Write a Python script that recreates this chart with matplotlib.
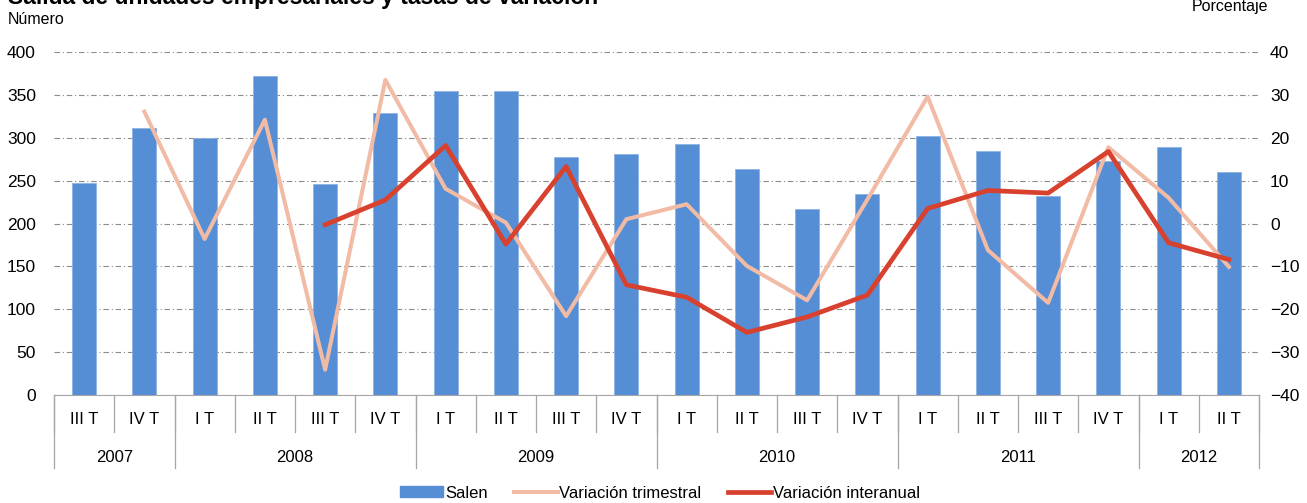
import numpy as np
import matplotlib.pyplot as plt
from matplotlib.patches import Patch
from matplotlib.lines import Line2D

plt.rcParams['font.family'] = ['Liberation Sans', 'DejaVu Sans']

# data
quarters = ["III T", "IV T",
            "I T", "II T", "III T", "IV T",
            "I T", "II T", "III T", "IV T",
            "I T", "II T", "III T", "IV T",
            "I T", "II T", "III T", "IV T",
            "I T", "II T"]
years = ["2007", "2008", "2009", "2010", "2011", "2012"]
quarters_per_year = [2, 4, 4, 4, 4, 2]

salen = [247, 311, 300, 372, 246, 329, 354, 354, 278, 281,
         293, 264, 217, 234, 302, 284, 232, 273, 289, 260]
var_trimestral = [np.nan, 26.1, -3.6, 24.2, -34.1, 33.5, 8.1, 0.2, -21.6, 1.0,
                  4.5, -9.9, -17.9, 5.6, 29.6, -6.2, -18.5, 17.8, 6.0, -10.1]
var_interanual = [np.nan, np.nan, np.nan, np.nan, -0.3, 5.5, 18.2, -4.8, 13.3, -14.3,
                  -17.2, -25.4, -21.8, -16.7, 3.5, 7.7, 7.1, 16.8, -4.5, -8.4]

bar_color = "#558ED5"
trim_color = "#F2BBA5"
inter_color = "#D9412F"
grid_color = "#8C8C8C"
axis_color = "#A6A6A6"

W, H = 1307, 503
fig = plt.figure(figsize=(W / 100, H / 100), dpi=100)
left, right, top, bottom = 54, 1259, 52, 395
ax = fig.add_axes([left / W, 1 - bottom / H, (right - left) / W, (bottom - top) / H])

x = np.arange(len(salen))
ax.bar(x, salen, width=0.4, color=bar_color, edgecolor="#8DB3E2", linewidth=0.6, zorder=2)
ax.set_xlim(-0.5, len(salen) - 0.5)
ax.set_ylim(0, 400)
ax.set_yticks(range(0, 401, 50))
ax.yaxis.grid(True, color=grid_color, linestyle=(0, (5, 2.5, 1, 2.5)), linewidth=0.8)
ax.set_axisbelow(True)
ax.tick_params(axis="y", length=0, pad=13, labelsize=12.5)
ax.set_xticks([])
for s in ["top", "left", "right"]:
    ax.spines[s].set_visible(False)
ax.spines["bottom"].set_color(axis_color)

ax2 = ax.twinx()
ax2.plot(x, var_trimestral, color=trim_color, linewidth=2.9, zorder=3)
ax2.plot(x, var_interanual, color=inter_color, linewidth=3.4, zorder=4)
ax2.set_ylim(-40, 40)
ax2.set_yticks(range(-40, 41, 10))
ax2.tick_params(axis="y", length=0, pad=8, labelsize=12.5)
for s in ["top", "left", "right", "bottom"]:
    ax2.spines[s].set_visible(False)

# two-level category axis
tr = ax.get_xaxis_transform()
q_low = (bottom - 432) / (bottom - top)
y_low = (bottom - 468) / (bottom - top)
for i, q in enumerate(quarters):
    ax.text(i, (bottom - 419) / (bottom - top), q, transform=tr, ha="center", va="center",
            fontsize=12, clip_on=False)
for b in np.arange(len(quarters) + 1) - 0.5:
    ax.plot([b, b], [0, q_low], transform=tr, color=axis_color, linewidth=0.9, clip_on=False)
start = -0.5
for yr, n in zip(years, quarters_per_year):
    ax.text(start + n / 2, (bottom - 457) / (bottom - top), yr, transform=tr, ha="center",
            va="center", fontsize=12, clip_on=False)
    ax.plot([start, start], [0, y_low], transform=tr, color=axis_color, linewidth=0.9, clip_on=False)
    start += n
ax.plot([start, start], [0, y_low], transform=tr, color=axis_color, linewidth=0.9, clip_on=False)

fig.text(8 / W, 1 - 4 / H, "Salida de unidades empresariales y tasas de variación",
         fontsize=16.5, fontweight="bold", va="baseline", ha="left")
fig.text(8 / W, 1 - 20 / H, "Número", fontsize=11.5, va="center", ha="left")
fig.text(1268 / W, 1 - 7 / H, "Porcentaje", fontsize=11.5, va="center", ha="right")

handles = [Patch(facecolor=bar_color, edgecolor=bar_color),
           Line2D([], [], color=trim_color, linewidth=2.9),
           Line2D([], [], color=inter_color, linewidth=3.4)]
fig.legend(handles, ["Salen", "Variación trimestral", "Variación interanual"],
           loc="center", bbox_to_anchor=(0.505, 1 - 493 / H), ncol=3, frameon=False,
           fontsize=12, handlelength=2.6, handletextpad=0.1, columnspacing=1.6,
           handleheight=0.6)

fig.savefig("out.png", dpi=100)
